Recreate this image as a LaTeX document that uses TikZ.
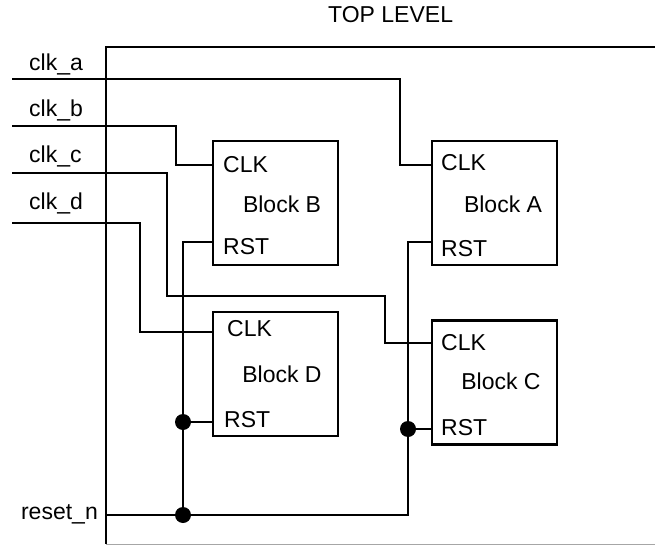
\documentclass[tikz,border=0pt]{standalone}
\usepackage{fontspec}
\setmainfont{Liberation Sans}
\usepackage{tikz}
\usetikzlibrary{positioning,calc}
\tikzstyle{blk}=[rectangle, draw, line width=2.1pt, minimum width=125pt, minimum height=124pt, inner sep=0pt]
\tikzstyle{txt}=[inner sep=0pt, font=\fontsize{23}{27}\selectfont]
\tikzstyle{wire}=[line width=2.1pt]
\tikzstyle{jdot}=[circle, fill, inner sep=0pt, minimum size=16pt]

\begin{document}
\begin{tikzpicture}[x=1pt, y=-1pt]
	\useasboundingbox (0,0) rectangle (655,545);
	% outer frame
	\coordinate (tl) at (106,47);
	\coordinate (tr) at (655,47);
	\coordinate (bl) at (106,544);
	\coordinate (br) at (655,544);
	\draw[wire] (tr) -- (tl) -- (bl);
	\draw[gray!70, line width=1pt] (bl) -- (br);
	\node[txt, anchor=base west] (top) at (328,23) {TOP LEVEL};
	% blocks
	\node[blk] (blkB) at (275.5,203) {};
	\node[blk] (blkA) at (494.5,203) {};
	\node[blk] (blkD) at (275.5,374) {};
	\node[blk] (blkC) at (494.5,382.5) {};
	\node[txt] (nameB) at (282,204.5) {Block B};
	\node[txt] (nameA) at (503,204.5) {Block A};
	\node[txt] (nameD) at (282,374.5) {Block D};
	\node[txt] (nameC) at (501,381) {Block C};
	\node[txt, anchor=base west] (lclkB) at (223,172.5) {CLK};
	\node[txt, anchor=base west] (lrstB) at (223,254) {RST};
	\node[txt, anchor=base west] (lclkA) at (441,170.5) {CLK};
	\node[txt, anchor=base west] (lrstA) at (441,256.5) {RST};
	\node[txt, anchor=base west] (lclkD) at (227,336.5) {CLK};
	\node[txt, anchor=base west] (lrstD) at (224,427.5) {RST};
	\node[txt, anchor=base west] (lclkC) at (441,350) {CLK};
	\node[txt, anchor=base west] (lrstC) at (441,435) {RST};
	% pins
	\coordinate (clkB) at (213,165);
	\coordinate (rstB) at (213,242);
	\coordinate (clkA) at (432,165);
	\coordinate (rstA) at (432,242);
	\coordinate (clkD) at (213,332);
	\coordinate (rstD) at (213,422);
	\coordinate (clkC) at (432,343);
	\coordinate (rstC) at (432,429);
	% inputs
	\coordinate (ina) at (12,79);
	\coordinate (inb) at (12,126);
	\coordinate (inc) at (12,173);
	\coordinate (ind) at (12,223);
	\coordinate (inr) at (106,515);
	\node[txt, anchor=base west] (lbla) at (29,71) {clk\_a};
	\node[txt, anchor=base west] (lblb) at (29,117) {clk\_b};
	\node[txt, anchor=base west] (lblc) at (29,163) {clk\_c};
	\node[txt, anchor=base west] (lbld) at (29,210) {clk\_d};
	\node[txt, anchor=base east] (lblr) at (98,519) {reset\_n};
	% clocks
	\draw[wire] (ina) -| (400,165) -- (clkA);
	\draw[wire] (inb) -| (176,165) -- (clkB);
	\draw[wire] (inc) -| (167,296) -| (385,343) -- (clkC);
	\draw[wire] (ind) -| (140,332) -- (clkD);
	% reset
	\node[jdot] (jD) at (183,422) {};
	\node[jdot] (jC) at (408,429) {};
	\node[jdot] (jR) at (183,515) {};
	\draw[wire] (inr) -| (408,242) -- (rstA);
	\draw[wire] (rstB) -| (jR.center);
	\draw[wire] (jD.center) -- (rstD);
	\draw[wire] (jC.center) -- (rstC);
\end{tikzpicture}
\end{document}
